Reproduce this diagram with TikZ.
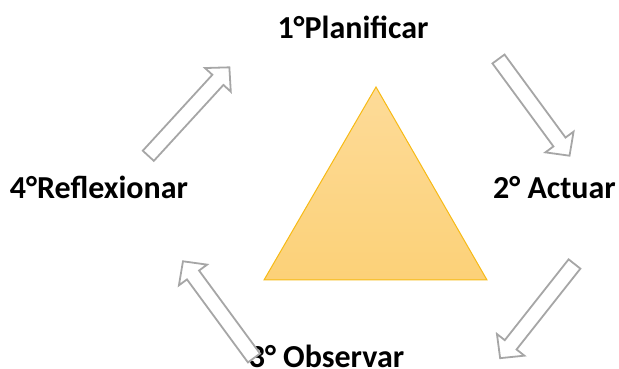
\documentclass[tikz,border=0pt]{standalone}
\usepackage{fontspec}
\setmainfont{Carlito}
\definecolor{arrgray}{RGB}{166,166,166}
\definecolor{tritop}{RGB}{253,219,152}
\definecolor{tribot}{RGB}{252,209,120}
\definecolor{triedge}{RGB}{247,186,20}
\tikzset{
  x=1pt, y=1pt,
  arrowline/.style={draw=arrgray, line width=1.8pt, fill=white, line join=miter},
  pics/blockarrow/.style={code={
    \path[arrowline] (0,-7.5) -- (103,-7.5) -- (103,-17.5) -- (120,0) -- (103,17.5) -- (103,7.5) -- (0,7.5) -- cycle;}},
  stage/.style={font=\bfseries\fontsize{32}{38}\selectfont, inner sep=0pt, anchor=base}
}
\begin{document}
\begin{tikzpicture}
\useasboundingbox (0,0) rectangle (619,369);
\clip (0,0) rectangle (619,369);
% triangle
\coordinate (apex) at (376,282);
\coordinate (bl) at (264,89);
\coordinate (br) at (487,89);
\shade[top color=tritop, bottom color=tribot] (apex) -- (br) -- (bl) -- cycle;
\draw[triedge, line width=1pt, line join=miter] (apex) -- (br) -- (bl) -- cycle;
% labels
\node[stage] (plan) at (353,330.7) {1°Planificar};
\node[stage] (act) at (554.5,170) {2° Actuar};
\node[stage] (obs) at (326.5,1) {3° Observar};
\node[stage] (refl) at (99,170) {4°Reflexionar};
% arrows
\pic[rotate=47.5] at (148.3,213.2) {blockarrow};
\pic[rotate=-53.7] at (498.5,310) {blockarrow};
\pic[rotate=-128.3] at (574.5,105) {blockarrow};
\pic[rotate=126.3] at (254,11) {blockarrow};
\end{tikzpicture}
\end{document}
